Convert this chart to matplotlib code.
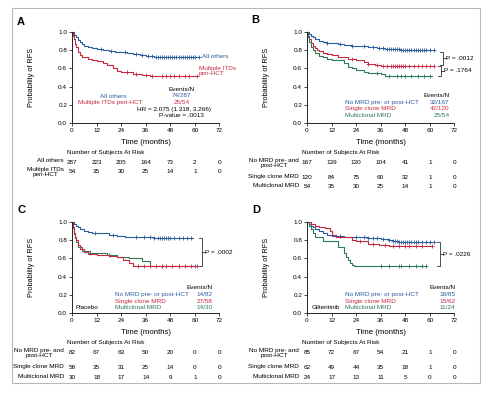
import matplotlib
matplotlib.use("Agg")
import matplotlib.pyplot as plt
import numpy as np
from matplotlib.patches import Rectangle

plt.rcParams["font.family"] = ["Liberation Sans", "DejaVu Sans"]

BLUE = "#2b5c9e"
RED = "#c8283f"
GREEN = "#2d7a5a"

# ---- data ----
time_ticks = [0, 12, 24, 36, 48, 60, 72]

# panel A
a_oth_t = [0, 1, 2, 3, 4, 5, 6, 8, 10, 12, 15, 18, 21, 24, 27, 30, 33, 36, 40, 62]
a_oth_s = [1.0, 0.97, 0.94, 0.91, 0.89, 0.87, 0.85, 0.84, 0.82, 0.81, 0.80, 0.79, 0.785, 0.78, 0.77, 0.76, 0.75, 0.74, 0.73, 0.73]
a_oth_c = [14, 19, 26, 31, 34, 37, 39, 41, 42, 43, 44, 45, 46, 47, 48, 49, 50, 51, 52, 53, 54, 55, 56, 57, 58, 59, 60, 62]
a_itd_t = [0, 0.5, 1, 1.5, 2, 3, 4, 5, 6, 8, 10, 12, 15, 17, 20, 22, 24, 30, 34, 38, 61]
a_itd_s = [1.0, 0.96, 0.92, 0.87, 0.83, 0.78, 0.75, 0.73, 0.72, 0.70, 0.69, 0.68, 0.66, 0.64, 0.60, 0.57, 0.56, 0.54, 0.53, 0.52, 0.52]
a_itd_c = [27, 31, 36, 39, 44, 46, 48, 50, 52, 55, 57, 61]
a_risk_labels = ["All others", "Multiple ITDs\nperi-HCT"]
a_risk = [[287, 223, 205, 164, 73, 2, 0], [54, 35, 30, 25, 14, 1, 0]]

# panel B
b_no_t = [0, 1, 2, 3, 4, 6, 8, 10, 12, 15, 18, 22, 26, 30, 34, 38, 42, 46, 62]
b_no_s = [1.0, 0.98, 0.96, 0.94, 0.92, 0.90, 0.89, 0.88, 0.875, 0.87, 0.86, 0.85, 0.845, 0.835, 0.825, 0.815, 0.81, 0.80, 0.80]
b_no_c = [10, 16, 22, 28, 32, 35, 37, 39, 40, 41, 42, 43, 44, 45, 46, 47, 48, 49, 50, 51, 52, 53, 54, 55, 56, 57, 58, 60, 62]
b_sc_t = [0, 0.5, 1, 2, 3, 4, 5, 6, 8, 10, 12, 15, 18, 20, 24, 28, 30, 33, 36, 62]
b_sc_s = [1.0, 0.96, 0.92, 0.88, 0.85, 0.82, 0.80, 0.79, 0.77, 0.76, 0.75, 0.73, 0.72, 0.70, 0.69, 0.67, 0.65, 0.64, 0.63, 0.63]
b_sc_c = [22, 30, 34, 37, 39, 41, 42, 43, 44, 45, 46, 47, 48, 50, 52, 54, 56, 58, 60, 62]
b_mc_t = [0, 0.5, 1, 2, 3, 4, 6, 8, 10, 12, 18, 20, 22, 24, 28, 30, 36, 38, 61]
b_mc_s = [1.0, 0.94, 0.89, 0.84, 0.80, 0.77, 0.74, 0.72, 0.70, 0.69, 0.66, 0.62, 0.60, 0.58, 0.56, 0.55, 0.54, 0.52, 0.52]
b_mc_c = [34, 40, 44, 46, 48, 51, 54, 57, 60]
mrd_labels = ["No MRD pre- and\npost-HCT", "Single clone MRD", "Multiclonal MRD"]
b_risk = [[167, 139, 130, 104, 41, 1, 0], [120, 84, 75, 60, 32, 1, 0], [54, 35, 30, 25, 14, 1, 0]]

# panel C (placebo)
c_no_t = [0, 1, 2, 3, 4, 6, 8, 10, 18, 22, 26, 30, 40, 46, 59]
c_no_s = [1.0, 0.98, 0.96, 0.94, 0.92, 0.90, 0.89, 0.88, 0.86, 0.85, 0.84, 0.83, 0.825, 0.82, 0.82]
c_no_c = [11, 20, 31, 35, 38, 40, 42, 43, 44, 45, 46, 47, 48, 50, 52, 54, 56, 58]
c_sc_t = [0, 0.5, 1, 1.5, 2, 3, 4, 6, 8, 12, 18, 22, 25, 28, 30, 61]
c_sc_s = [1.0, 0.94, 0.88, 0.84, 0.80, 0.75, 0.70, 0.67, 0.65, 0.64, 0.63, 0.61, 0.58, 0.55, 0.52, 0.52]
c_sc_c = [32, 35, 38, 41, 44, 46, 49, 52, 55, 58, 61]
c_mc_t = [0, 0.5, 1, 1.5, 2, 3, 5, 9, 17, 22, 28, 34, 38, 60]
c_mc_s = [1.0, 0.93, 0.87, 0.82, 0.78, 0.72, 0.68, 0.66, 0.64, 0.62, 0.60, 0.57, 0.52, 0.52]
c_mc_c = [9, 18, 44, 52, 60]
c_risk = [[82, 67, 63, 50, 20, 0, 0], [58, 35, 31, 25, 14, 0, 0], [30, 18, 17, 14, 9, 1, 0]]

# panel D (gilteritinib)
d_no_t = [0, 1, 2, 3, 4, 6, 8, 10, 12, 18, 24, 30, 36, 40, 42, 45, 48, 62]
d_no_s = [1.0, 0.98, 0.96, 0.94, 0.92, 0.90, 0.88, 0.86, 0.85, 0.84, 0.83, 0.82, 0.81, 0.80, 0.79, 0.78, 0.775, 0.775]
d_no_c = [16, 24, 28, 30, 32, 34, 37, 40, 42, 43, 44, 45, 46, 47, 48, 49, 50, 51, 52, 53, 54, 56, 58, 60, 62]
d_rd_t = [0, 2, 4, 6, 9, 11, 12, 14, 20, 22, 24, 30, 35, 40, 61]
d_rd_s = [1.0, 0.98, 0.96, 0.95, 0.93, 0.90, 0.86, 0.84, 0.83, 0.80, 0.79, 0.76, 0.75, 0.74, 0.74]
d_rd_c = [26, 32, 38, 42, 45, 48, 50, 53, 56, 61]
d_mc_t = [0, 1, 2, 3, 4, 8, 15, 18, 19, 20, 21, 22, 23, 58]
d_mc_s = [1.0, 0.96, 0.92, 0.88, 0.84, 0.79, 0.73, 0.66, 0.62, 0.58, 0.55, 0.53, 0.52, 0.52]
d_mc_c = [36, 40, 45, 46, 50, 53, 56, 58]
d_risk = [[85, 72, 67, 54, 21, 1, 0], [62, 49, 44, 35, 18, 1, 0], [24, 17, 13, 11, 5, 0, 0]]

W, H = 489, 393
fig = plt.figure(figsize=(W / 100, H / 100), dpi=100)

# outer frame
fig.patches.append(Rectangle((12 / W, 1 - 383 / H), 468 / W, 375 / H, transform=fig.transFigure,
                             fill=False, edgecolor="#b8b8b8", lw=0.8))

FS = 4.6  # small text


def make_ax(x0, y0px):
    ax = fig.add_axes([x0 / W, 1 - y0px / H, 147.5 / W, 91 / H])
    ax.set_xlim(0, 72)
    ax.set_ylim(0, 1.0)
    for s in ("top", "right"):
        ax.spines[s].set_visible(False)
    for s in ("left", "bottom"):
        ax.spines[s].set_linewidth(0.6)
    ax.set_xticks(time_ticks)
    ax.set_yticks(np.arange(0, 1.01, 0.2))
    ax.set_yticklabels([f"{v:.1f}" for v in np.arange(0, 1.01, 0.2)])
    ax.tick_params(labelsize=4.6, length=2, width=0.5, pad=1.5)
    ax.set_ylabel("Probability of RFS", fontsize=5.3)
    ax.yaxis.set_label_coords(-0.25, 0.5)
    ax.text(36, -0.21, "Time (months)", fontsize=5.6, ha="center", va="center",
            transform=ax.get_xaxis_transform())
    return ax


def km(ax, t, s, cens, color):
    ax.step(t, s, where="post", color=color, lw=0.8, clip_on=False)
    idx = np.searchsorted(t, cens, side="right") - 1
    ax.plot(cens, np.array(s)[idx], "+", color=color, ms=3, mew=0.6, clip_on=False)


def risk_table(ax, labels, rows, ys):
    tr = ax.get_xaxis_transform()
    ax.text(-2.5, -0.32, "Number of Subjects At Risk", fontsize=FS, ha="left", va="center", transform=tr)
    for lab, row, y in zip(labels, rows, ys):
        ax.text(-4, y + 0.045, lab, fontsize=FS, ha="right", va="top", multialignment="center",
                linespacing=1.05, transform=tr)
        for tx, n in zip(time_ticks, row):
            ax.text(tx, y, str(n), fontsize=FS, ha="center", va="center", transform=tr)


def bracket(ax, x, y_top, y_bot, label):
    ax.plot([x - 1.5, x, x, x - 1.5], [y_top, y_top, y_bot, y_bot], color="#333333", lw=0.6, clip_on=False)
    ym = (y_top + y_bot) / 2
    ax.plot([x, x + 1.2], [ym, ym], color="#333333", lw=0.6, clip_on=False)
    ax.text(x + 1.5, ym, label, fontsize=FS, ha="left", va="center")


def panel_letter(xpx, ypx, letter):
    fig.text(xpx / W, 1 - ypx / H, letter, fontsize=8, fontweight="bold", ha="left", va="center")


def legend_block(ax, x_left, x_right, y_head, names, events, ys):
    ax.text(x_right, y_head, "Events/N", fontsize=FS, ha="right", va="center")
    for lab, ev, col, y in zip(names, events, [BLUE, RED, GREEN], ys):
        ax.text(x_left, y, lab, color=col, fontsize=FS, ha="left", va="center")
        ax.text(x_right, y, ev, color=col, fontsize=FS, ha="right", va="center")


legend_names = ["No MRD pre- or post-HCT", "Single clone MRD", "Multiclonal MRD"]

# ---- A ----
axA = make_ax(72, 123)
km(axA, a_oth_t, a_oth_s, a_oth_c, BLUE)
km(axA, a_itd_t, a_itd_s, a_itd_c, RED)
axA.text(63.5, a_oth_s[-1], "All others", color=BLUE, fontsize=FS, ha="left", va="center")
axA.text(62, 0.57, "Multiple ITDs\nperi-HCT", color=RED, fontsize=FS, ha="left", va="center", linespacing=1.05)
axA.text(20, 0.29, "All others", color=BLUE, fontsize=FS, ha="center", va="center")
axA.text(18.5, 0.22, "Multiple ITDs peri-HCT", color=RED, fontsize=FS, ha="center", va="center")
axA.text(53.5, 0.37, "Events/N", fontsize=FS, ha="center", va="center")
axA.text(53.5, 0.30, "74/287", color=BLUE, fontsize=FS, ha="center", va="center")
axA.text(53.5, 0.23, "25/54", color=RED, fontsize=FS, ha="center", va="center")
axA.text(50, 0.15, "HR = 2.075 (1.318, 3.266)", fontsize=FS, ha="center", va="center")
axA.text(53.5, 0.08, "P-value = .0013", fontsize=FS, ha="center", va="center")
risk_table(axA, a_risk_labels, a_risk, [-0.43, -0.53])
panel_letter(17, 22, "A")

# ---- B ----
axB = make_ax(307, 123)
km(axB, b_no_t, b_no_s, b_no_c, BLUE)
km(axB, b_sc_t, b_sc_s, b_sc_c, RED)
km(axB, b_mc_t, b_mc_s, b_mc_c, GREEN)
bracket(axB, 66.5, b_no_s[-1] - 0.015, b_sc_s[-1] + 0.01, "P = .0012")
bracket(axB, 65.5, b_sc_s[-1] - 0.005, b_mc_s[-1], "P = .1764")
legend_block(axB, 18.6, 69.5, 0.305, legend_names, ["32/167", "42/120", "25/54"], [0.23, 0.155, 0.08])
risk_table(axB, mrd_labels, b_risk, [-0.43, -0.60, -0.70])
panel_letter(251, 20, "B")

# ---- C ----
axC = make_ax(72, 313)
km(axC, c_no_t, c_no_s, c_no_c, BLUE)
km(axC, c_mc_t, c_mc_s, c_mc_c, GREEN)
km(axC, c_sc_t, c_sc_s, c_sc_c, RED)
bracket(axC, 63.5, c_no_s[-1], c_sc_s[-1], "P = .0002")
legend_block(axC, 20.9, 68.6, 0.28, legend_names, ["14/82", "27/58", "14/30"], [0.205, 0.13, 0.055])
axC.text(1.5, 0.055, "Placebo", fontsize=FS, ha="left", va="center")
risk_table(axC, mrd_labels, c_risk, [-0.43, -0.60, -0.71])
panel_letter(17, 210, "C")

# ---- D ----
axD = make_ax(307, 313)
km(axD, d_no_t, d_no_s, d_no_c, BLUE)
km(axD, d_rd_t, d_rd_s, d_rd_c, RED)
km(axD, d_mc_t, d_mc_s, d_mc_c, GREEN)
bracket(axD, 65, d_no_s[-1], d_mc_s[-1], "P = .0226")
legend_block(axD, 18.6, 72.5, 0.28, legend_names, ["18/85", "15/62", "11/24"], [0.205, 0.13, 0.055])
axD.text(2.5, 0.055, "Gilteritinib", fontsize=FS, ha="left", va="center")
risk_table(axD, mrd_labels, d_risk, [-0.43, -0.60, -0.71])
panel_letter(252, 210, "D")

fig.savefig("out.png", dpi=100)
